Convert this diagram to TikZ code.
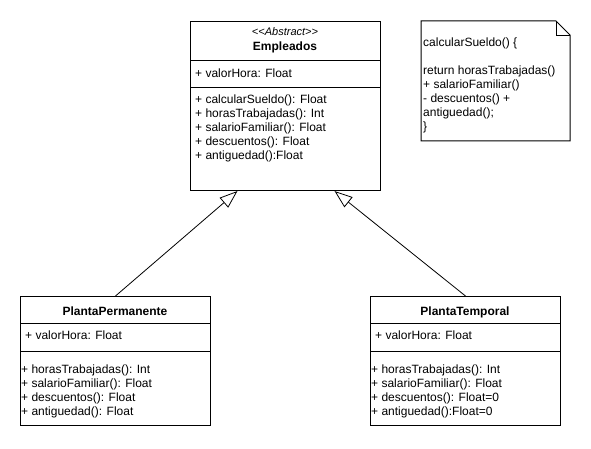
\documentclass[tikz,border=0pt]{standalone}
\usepackage{fontspec}
\setmainfont{Liberation Sans}
\usetikzlibrary{arrows.meta}

\begin{document}
\begin{tikzpicture}[x=1pt, y=-1pt,
    font=\fontsize{12}{14}\selectfont,
    umlclass/.style={draw, line width=1pt, anchor=north west, inner sep=0pt, minimum width=190pt, minimum height=129pt},
    members/.style={anchor=base west, align=left, inner sep=0pt},
    classname/.style={anchor=base, inner sep=0pt, font=\fontsize{12}{14}\selectfont\bfseries},
    inherit/.style={-{Triangle[open, length=18pt, width=13pt]}, line width=0.8pt}]
    \useasboundingbox (0,0) rectangle (591,449);

    % abstract class (multi-line nodes sit on their last baseline)
    \node[umlclass, minimum height=169pt] (emp) at (190,21) {};
    \draw ([yshift=-39pt]emp.north west) -- ([yshift=-39pt]emp.north east);
    \draw ([yshift=-66pt]emp.north west) -- ([yshift=-66pt]emp.north east);
    \node[anchor=base, inner sep=0pt, font=\fontsize{11}{12}\selectfont\itshape] (empStereo) at (285,35.5) {<\kern0pt<Abstract>\kern0pt>};
    \node[classname] (empName) at (285,50.5) {Empleados};
    \node[members] (empAttr) at (195,77.3) {+ valorHora: Float};
    \node[members] (empOps) at (195,160) {+ calcularSueldo(): Float\\+ horasTrabajadas(): Int\\+ salarioFamiliar(): Float\\+ descuentos(): Float\\+ antiguedad():Float};

    % note
    \draw[line width=1pt] (421,21) -- (556,21) -- (570,35) -- (570,141) -- (421,141) -- cycle;
    \draw (556,21) -- (556,35) -- (570,35);
    \node[members] (noteText) at (423,131) {calcularSueldo() \{\\[14pt]return horasTrabajadas()\\+ salarioFamiliar()\\- descuentos() +\\antiguedad();\\\}};

    % subclasses
    \node[umlclass] (perm) at (20,296) {};
    \draw ([yshift=-27pt]perm.north west) -- ([yshift=-27pt]perm.north east);
    \draw ([yshift=-55pt]perm.north west) -- ([yshift=-55pt]perm.north east);
    \node[classname] (permName) at (115,315) {PlantaPermanente};
    \node[members] (permAttr) at (25,339.3) {+ valorHora: Float};
    \node[members] (permOps) at (21,415.3) {+ horasTrabajadas(): Int\\+ salarioFamiliar(): Float\\+ descuentos(): Float\\+ antiguedad(): Float};

    \node[umlclass] (temp) at (370,296) {};
    \draw ([yshift=-27pt]temp.north west) -- ([yshift=-27pt]temp.north east);
    \draw ([yshift=-55pt]temp.north west) -- ([yshift=-55pt]temp.north east);
    \node[classname] (tempName) at (465,315) {PlantaTemporal};
    \node[members] (tempAttr) at (375,339.3) {+ valorHora: Float};
    \node[members] (tempOps) at (371,415.3) {+ horasTrabajadas(): Int\\+ salarioFamiliar(): Float\\+ descuentos(): Float=0\\+ antiguedad():Float=0};

    \draw[inherit] (perm.north) -- ([xshift=-48pt]emp.south);
    \draw[inherit] (temp.north) -- ([xshift=49pt]emp.south);
\end{tikzpicture}
\end{document}
